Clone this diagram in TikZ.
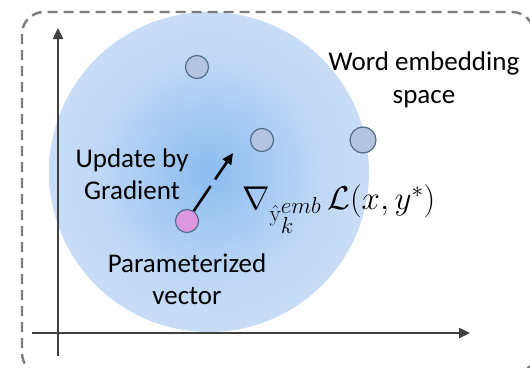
\RequirePackage{fix-cm}
\documentclass[tikz,border=0pt]{standalone}
\usepackage{fontspec}
\setsansfont{Carlito}
\usepackage{amsmath}
\usetikzlibrary{arrows.meta}
\definecolor{axisgray}{RGB}{64,64,64}
\definecolor{bordergray}{RGB}{125,125,125}
\definecolor{dotfill}{RGB}{178,196,226}
\definecolor{dotedge}{RGB}{80,110,140}
\definecolor{pinkfill}{RGB}{222,150,222}
\definecolor{gc}{RGB}{140,188,240}
\definecolor{gm}{RGB}{192,216,246}
\definecolor{ge}{RGB}{226,236,251}
\pgfdeclareradialshading{blob}{\pgfpoint{0bp}{0bp}}{color(0bp)=(gc); color(18bp)=(gm); color(48bp)=(ge); color(50bp)=(ge)}
\tikzset{
  dot/.style={circle, draw=dotedge, fill=dotfill, line width=1.2pt, minimum size=23pt, inner sep=0pt},
  pinkdot/.style={dot, fill=pinkfill},
  lbl/.style={font=\sffamily\fontsize{27}{32.5}\selectfont, text=black, align=center, inner sep=0pt},
  axis/.style={draw=axisgray, line width=2.4pt, -{Triangle[length=11pt,width=10pt]}},
}
\begin{document}
\begin{tikzpicture}[x=1pt,y=-1pt]
\useasboundingbox (0,0) rectangle (530,367);
\fill[white] (0,0) rectangle (530,367);
\shade[shading=blob] (209,172) circle (160);
\draw[bordergray, line width=2.4pt, dash pattern=on 10pt off 6pt, rounded corners=22pt] (22,12) rectangle (534,375);
\coordinate (yb) at (58,356);
\coordinate (yt) at (58,28);
\coordinate (xl) at (32,333);
\coordinate (xr) at (470,333);
\draw[axis] (yb) -- (yt);
\draw[axis] (xl) -- (xr);
\node[dot] (a) at (197,67) {};
\node[dot] (b) at (262,140) {};
\node[dot, minimum size=26pt] (c) at (363,140) {};
\node[pinkdot] (p) at (187,221) {};
\coordinate (tip) at (233,153);
\draw[black, line width=2.6pt, dash pattern=on 30pt off 8pt, -{Triangle[length=11pt,width=10pt]}] (p) -- (tip);
\node[lbl] (we) at (424,80) {Word embedding\\space};
\node[lbl] (ug) at (132,174) {Update by\\Gradient};
\node[lbl] (pv) at (187,279) {Parameterized\\vector};
\node[inner sep=0pt, anchor=base west] (gr) at (242,209) {\fontsize{33}{36}\selectfont $\nabla_{\hat{\mathrm{y}}_{\scriptstyle k}^{\scriptstyle emb}}\,\mathcal{L}(x,y^*)$};
\end{tikzpicture}
\end{document}
